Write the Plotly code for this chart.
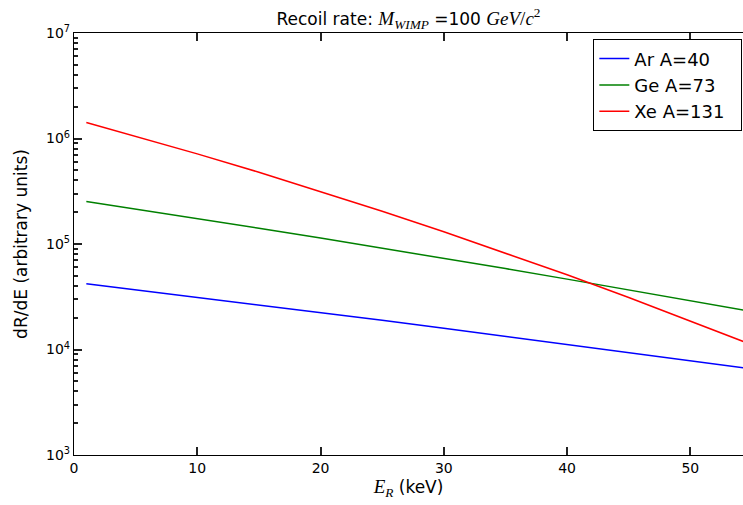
import plotly.graph_objects as go

energy_kev = [1, 5, 10, 15, 20, 25, 30, 35, 40, 45, 50, 55]
rate_ar = [4.206e4, 3.691e4, 3.130e4, 2.651e4, 2.240e4, 1.890e4, 1.591e4, 1.337e4, 1.122e4, 9.40e3, 7.86e3, 6.555e3]
rate_ge = [2.532e5, 2.149e5, 1.746e5, 1.413e5, 1.139e5, 9.15e4, 7.32e4, 5.845e4, 4.645e4, 3.68e4, 2.904e4, 2.284e4]
rate_xe = [1.418e6, 1.052e6, 7.15e5, 4.785e5, 3.155e5, 2.047e5, 1.308e5, 8.235e4, 5.105e4, 3.114e4, 1.873e4, 1.108e4]

series_names = ["Ar A=40", "Ge A=73", "Xe A=131"]
series_colors = ["blue", "green", "red"]
y_tickvals = [1e3, 1e4, 1e5, 1e6, 1e7]
y_ticktext = ["10<sup>3</sup>", "10<sup>4</sup>", "10<sup>5</sup>", "10<sup>6</sup>", "10<sup>7</sup>"]
y_minor_tickvals = [m * 10 ** d for d in range(3, 7) for m in range(2, 10)]
x_tickvals = [0, 10, 20, 30, 40, 50]

FONT = "DejaVu Sans"
SERIF = "Liberation Serif"

fig = go.Figure()
for name, ys, col in zip(series_names, [rate_ar, rate_ge, rate_xe], series_colors):
    fig.add_trace(go.Scatter(x=energy_kev, y=ys, mode="lines", name=name + "&nbsp;&nbsp;",
                             line=dict(color=col, width=1.5)))
# transparent copy on the overlay axis that carries the minor ticks
fig.add_trace(go.Scatter(x=energy_kev, y=rate_ar, yaxis="y2", mode="lines",
                         line=dict(color="rgba(0,0,0,0)", width=0),
                         showlegend=False, hoverinfo="skip"))

title_txt = ('Recoil rate: <span style="font-family:%s;font-size:19px"><i>M</i><sub><i>WIMP</i></sub></span> =100 '
             '<span style="font-family:%s;font-size:19px"><i>GeV</i>/<i>c</i><sup>2</sup></span>') % (SERIF, SERIF)

fig.update_layout(
    width=743, height=505,
    paper_bgcolor="white", plot_bgcolor="white",
    margin=dict(l=74, r=0, t=33, b=50),
    font=dict(family=FONT, size=14, color="black"),
    title=dict(text=title_txt, x=0.5, xref="paper", xanchor="center", y=0.975, yanchor="top",
               font=dict(family=FONT, size=17, color="black")),
    showlegend=True,
    legend=dict(x=0.999, xanchor="right", y=0.985, yanchor="top",
                bgcolor="white", bordercolor="black", borderwidth=1,
                font=dict(family=FONT, size=18, color="black"),
                tracegroupgap=0, itemwidth=30),
    xaxis=dict(range=[0, 54.27], tickmode="array", tickvals=x_tickvals, ticks="inside", ticklen=8, tickwidth=1.5,
               tickcolor="#222222", showline=True, linecolor="black", linewidth=1.3,
               mirror="ticks", showgrid=False, zeroline=False, layer="above traces",
               tickfont=dict(family=FONT, size=14),
               title=dict(text='<span style="font-family:%s;font-size:19px"><i>E</i><sub><i>R</i></sub></span> (keV)' % SERIF,
                          font=dict(family=FONT, size=17), standoff=6)),
    yaxis=dict(type="log", range=[3, 7], tickmode="array", tickvals=y_tickvals, ticktext=y_ticktext,
               ticks="inside", ticklen=8, tickwidth=1.5, tickcolor="#222222", showline=True,
               linecolor="black", linewidth=1.3, showgrid=False, zeroline=False, layer="above traces",
               tickfont=dict(family=FONT, size=14),
               title=dict(text="dR/dE (arbitrary units)", font=dict(family=FONT, size=17), standoff=14)),
    yaxis2=dict(type="log", range=[3, 7], overlaying="y", side="left", anchor="x",
                tickmode="array", tickvals=y_minor_tickvals, ticktext=[""] * len(y_minor_tickvals),
                ticks="inside", ticklen=4, tickwidth=1.5, tickcolor="#222222", showticklabels=True,
                showgrid=False, zeroline=False, showline=False),
)

fig.write_html("out.html", config={"displayModeBar": False},
               post_script="document.body.style.margin='0';document.body.style.overflow='hidden';")
